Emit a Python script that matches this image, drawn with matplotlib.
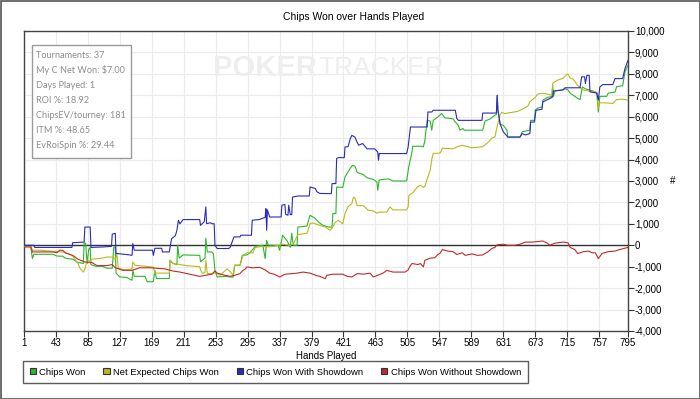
import matplotlib
matplotlib.use("Agg")
import matplotlib.pyplot as plt
from matplotlib.patches import Rectangle, Patch
from matplotlib.ticker import FuncFormatter

# donnees (main, jetons)
won_h = [1, 10, 12, 14, 39, 44, 52, 55, 65, 72, 79, 80, 82, 84, 86, 88, 89, 95, 104, 110, 117, 119, 121, 122,
         127, 136, 143, 144, 146, 160, 163, 171, 173, 175, 192, 193, 197, 202, 203, 205, 210, 232, 233, 239,
         240, 242, 248, 250, 252, 255, 265, 272, 276, 278, 285, 288, 294, 298, 305, 315, 318, 320, 322, 335,
         337, 341, 347, 351, 353, 355, 360, 361, 373, 377, 384, 388, 393, 401, 406, 407, 411, 412, 420, 423,
         430, 433, 436, 439, 447, 452, 460, 465, 466, 468, 480, 486, 504, 507, 511, 512, 524, 526, 528, 531,
         535, 537, 539, 545, 550, 554, 565, 568, 572, 574, 578, 580, 604, 607, 614, 620, 622, 623, 624, 627,
         631, 636, 637, 653, 656, 666, 667, 672, 673, 676, 682, 683, 689, 695, 696, 697, 699, 708, 712, 716,
         719, 729, 732, 735, 739, 749, 754, 756, 758, 767, 769, 778, 780, 788, 791, 795]
won_v = [-50, -50, -620, -420, -420, -500, -510, -600, -650, -800, -850, 100, 100, -850, -200, -100, -900,
         -980, -980, -1070, -1070, -80, -80, -1300, -1480, -1500, -1630, -1170, -1450, -1450, -1700, -1700,
         -1170, -1550, -1550, -700, -850, -900, 0, -600, -450, -470, -770, -600, 330, -310, -310, -400, -1170,
         -1480, -1450, -1480, -1480, -930, -930, -470, -450, -350, -50, 0, -620, 230, 0, 0, -230, 470, 200,
         -100, 560, 0, 0, 850, 900, 1400, 1250, 1090, 950, 850, 850, 1480, 1480, 2720, 2700, 3190, 3600, 3730,
         3700, 3400, 3300, 3150, 3080, 2950, 2570, 3050, 3100, 3000, 3000, 3700, 4350, 4620, 4620, 4590, 4900,
         5830, 5800, 5370, 5830, 5990, 6150, 5950, 5900, 5750, 5600, 5370, 5450, 5370, 5370, 5800, 5900, 6070,
         6100, 7000, 6300, 5650, 5600, 5370, 5050, 5050, 5300, 5370, 5830, 5830, 6300, 6400, 6450, 6770, 6900,
         6950, 7470, 6950, 7200, 7250, 7310, 7250, 7100, 6850, 6800, 7390, 7300, 7200, 7100, 6220, 6950, 6950,
         7100, 7150, 7400, 7450, 8090, 8400]

ev_h = [1, 10, 12, 22, 39, 52, 60, 65, 72, 75, 79, 81, 84, 88, 90, 104, 110, 117, 121, 123, 125, 134, 143,
        144, 147, 171, 173, 192, 193, 197, 215, 232, 233, 236, 239, 240, 242, 249, 252, 259, 265, 268, 274,
        276, 278, 285, 289, 294, 302, 305, 315, 320, 330, 341, 350, 355, 361, 373, 377, 380, 388, 397, 403,
        406, 410, 414, 420, 423, 427, 432, 434, 436, 439, 447, 453, 460, 465, 469, 478, 482, 486, 504, 506,
        507, 512, 518, 522, 526, 528, 531, 535, 537, 539, 548, 551, 565, 570, 577, 590, 604, 611, 616, 620,
        623, 624, 627, 629, 633, 642, 650, 653, 660, 664, 666, 673, 676, 682, 690, 695, 696, 702, 710, 713,
        716, 719, 723, 729, 736, 743, 754, 756, 758, 762, 775, 780, 788, 795]
ev_v = [-50, -50, -230, -230, -280, -310, -400, -500, -850, -1100, -1250, -1100, -700, -750, -650, -600,
        -550, -550, -650, -400, -1070, -1150, -1100, -780, -930, -1020, -1300, -1300, -700, -850, -950,
        -1000, -1150, -1320, -1250, -700, -1320, -1320, -1280, -1400, -1200, -1100, -1300, -1400, -930,
        -930, -470, -350, -350, -100, -50, -80, -50, 50, 0, 50, 500, 560, 1000, 1050, 950, 850, 700, 800,
        1050, 1170, 1000, 1480, 1800, 1950, 2250, 2200, 1850, 1850, 1650, 1600, 1500, 1550, 1550, 1790, 1650,
        1650, 1790, 2330, 2450, 2720, 2800, 2700, 2750, 3100, 3500, 4000, 4290, 4300, 4530, 4500, 4590, 4670,
        4550, 4600, 4800, 5000, 5050, 5550, 5700, 6100, 6200, 6150, 6200, 6250, 6300, 6420, 6530, 6700, 6900,
        7050, 7100, 7050, 7000, 7560, 7700, 7800, 7930, 8000, 7800, 7750, 7450, 7250, 7200, 7150, 6380, 6650,
        6650, 6620, 6800, 6820, 6770]

sd_h = [1, 14, 15, 64, 65, 80, 81, 88, 89, 104, 116, 117, 121, 122, 140, 143, 144, 146, 170, 171, 173, 182,
        183, 192, 195, 200, 202, 204, 206, 210, 232, 233, 238, 240, 241, 246, 249, 251, 252, 255, 270, 272,
        277, 285, 286, 300, 301, 310, 318, 319, 320, 321, 324, 339, 340, 344, 345, 348, 349, 351, 353, 354,
        361, 376, 377, 384, 386, 390, 405, 406, 411, 412, 414, 422, 423, 427, 430, 432, 436, 439, 441, 446,
        448, 452, 462, 466, 467, 468, 504, 506, 509, 531, 532, 537, 539, 568, 570, 572, 603, 604, 622, 623,
        624, 627, 631, 637, 653, 656, 660, 666, 667, 672, 674, 682, 683, 692, 696, 697, 710, 712, 732, 734,
        738, 739, 741, 744, 745, 754, 756, 758, 762, 775, 778, 788, 791, 795]
sd_v = [0, 0, -100, -100, 120, 150, 850, 850, -100, -80, -50, 520, 560, -380, -450, -470, 80, -230, -230,
        -470, -140, -140, -310, -310, 310, 450, 700, 1170, 1000, 1200, 1200, 930, 1100, 1790, 1010, 1050,
        1000, 1010, 0, -150, -150, -100, 390, 390, 470, 470, 1170, 1200, 1300, 1710, 700, 1650, 1320, 1320,
        1870, 1900, 1450, 1400, 1870, 1430, 1430, 2250, 2300, 2300, 2720, 2650, 2500, 2420, 2410, 2880, 2880,
        4050, 4090, 4090, 4590, 4600, 4980, 5130, 5050, 4800, 4670, 4750, 4670, 4500, 4500, 4350, 3970, 4280,
        4280, 4590, 5520, 5520, 6220, 6220, 6300, 6300, 5910, 5830, 5830, 6170, 6170, 7000, 6300, 5650, 5300,
        5050, 5050, 5210, 5150, 5210, 5750, 5750, 6300, 6350, 6690, 6850, 6920, 7200, 7250, 7350, 7350, 7860,
        7860, 7550, 7930, 7930, 7160, 7100, 6770, 7390, 7500, 7500, 7780, 7780, 8250, 8630]

nosd_h = [1, 10, 12, 39, 44, 48, 52, 55, 65, 72, 81, 90, 97, 110, 117, 121, 131, 143, 153, 167, 186, 197,
          206, 215, 232, 240, 248, 252, 255, 265, 272, 278, 285, 288, 292, 294, 301, 311, 318, 324, 330, 337,
          344, 351, 360, 368, 377, 386, 390, 397, 399, 407, 420, 426, 432, 439, 447, 456, 460, 466, 473, 478,
          486, 502, 506, 508, 511, 519, 522, 526, 528, 535, 541, 545, 548, 551, 558, 565, 570, 577, 581, 590,
          597, 604, 611, 616, 620, 623, 631, 637, 646, 653, 660, 670, 683, 689, 692, 699, 710, 716, 719, 725,
          729, 736, 743, 748, 752, 756, 761, 769, 778, 784, 795]
nosd_v = [-80, -80, -310, -310, -350, -230, -230, -350, -470, -650, -780, -800, -950, -950, -900, -1050,
          -1170, -1170, -1050, -1050, -1100, -1200, -1250, -1320, -1450, -1400, -1350, -1200, -1300, -1400,
          -1450, -1400, -1320, -1200, -1100, -1010, -1050, -1030, -1150, -1300, -1350, -1480, -1350, -1330,
          -1300, -1250, -1300, -1420, -1450, -1560, -1400, -1350, -1350, -1450, -1480, -1320, -1350, -1300,
          -1480, -1400, -1300, -1170, -1250, -1250, -1150, -1000, -850, -900, -850, -1010, -700, -600, -580,
          -430, -370, -200, -270, -300, -430, -350, -470, -400, -470, -450, -300, -150, -100, 20, 50, 0, 0, 50,
          150, 150, 200, 100, 0, 100, 150, 120, -100, -200, -390, -300, -270, -350, -350, -620, -380, -300,
          -270, -200, -100]

x_ticks = [1, 43, 85, 127, 169, 211, 253, 295, 337, 379, 421, 463, 505, 547, 589, 631, 673, 715, 757, 795]
y_ticks = list(range(-4000, 10001, 1000))

series = ["Chips Won", "Net Expected Chips Won", "Chips Won With Showdown", "Chips Won Without Showdown"]
colors = ["#2db52d", "#b9b91e", "#2a2ac2", "#c02a2a"]

stats = ["Tournaments: 37", "My C Net Won: $7.00", "Days Played: 1", "ROI %: 18.92",
         "ChipsEV/tourney: 181", "ITM %: 48.65", "EvRoiSpin %: 29.44"]

W, H = 700, 399
plt.rcParams['font.family'] = ['Liberation Sans', 'DejaVu Sans']
fig = plt.figure(figsize=(7, 3.99), dpi=100, facecolor="white")

ax = fig.add_axes([24 / W, 1 - 331 / H, (628 - 24) / W, 300 / H])

# filigrane
fig.text(317 / W, 1 - 68 / H, "POKER", fontsize=21, fontweight="bold", color="#eeeeee",
         ha="right", va="center", zorder=0)
fig.text(318 / W, 1 - 68 / H, "TRACKER", fontsize=19, color="#eeeeee",
         ha="left", va="center", zorder=0)
ax.set_facecolor("none")

for h, v, c in zip([won_h, ev_h, sd_h, nosd_h], [won_v, ev_v, sd_v, nosd_v], colors):
    ax.plot(h, v, color=c, lw=0.8, zorder=3)

ax.axhline(0, color="#333333", lw=1, zorder=2)
ax.set_xlim(1, 795)
ax.set_ylim(-4000, 10000)
ax.set_xticks(x_ticks)
ax.set_yticks(y_ticks)
ax.yaxis.set_major_formatter(FuncFormatter(lambda v, p: f"{int(v):,}"))
ax.yaxis.tick_right()
ax.yaxis.set_label_position("right")
ax.tick_params(axis="both", labelsize=7, length=4, width=0.8, color="#333333", pad=1)
ax.grid(True, color="#ebebeb", lw=0.8, zorder=0)
for s in ax.spines.values():
    s.set_color("#444444")
    s.set_linewidth(1)
ax.set_xlabel("Hands Played", fontsize=7, labelpad=2)

fig.text(673 / W, 1 - 181 / H, "#", fontsize=7, ha="center", va="center")
fig.text(0.505, 1 - 17 / H, "Chips Won over Hands Played", fontsize=7.5, ha="center", va="center")

# boite de stats
fig.patches.append(Rectangle((32 / W, 1 - 158 / H), 99 / W, 113 / H, transform=fig.transFigure,
                             facecolor="white", edgecolor="#9a9a9a", lw=1, zorder=5))
for i, t in enumerate(stats):
    fig.text(36 / W, 1 - (55 + 15.1 * i) / H, t, fontsize=6.6, color="#8c8c8c",
             family=["Lato", "DejaVu Sans"], va="center", zorder=6)

handles = [Patch(facecolor=c, edgecolor="#333333", lw=0.8) for c in colors]
leg = fig.legend(handles, series, loc="upper left", bbox_to_anchor=(23 / W, 1 - 361 / H), ncol=4,
                 fontsize=6.8, frameon=True, fancybox=False, handlelength=0.65, handleheight=0.65,
                 handletextpad=0.35, columnspacing=1.9, borderpad=0.7, borderaxespad=0)
leg.get_frame().set_edgecolor("#333333")
leg.get_frame().set_linewidth(1)

# cadre exterieur
fig.patches.append(Rectangle((0.5 / W, 0.5 / H), 1 - 1 / W, 1 - 1 / H, transform=fig.transFigure,
                             facecolor="none", edgecolor="#555555", lw=1.2, zorder=10))

fig.savefig("out.png", dpi=100, facecolor="white")
